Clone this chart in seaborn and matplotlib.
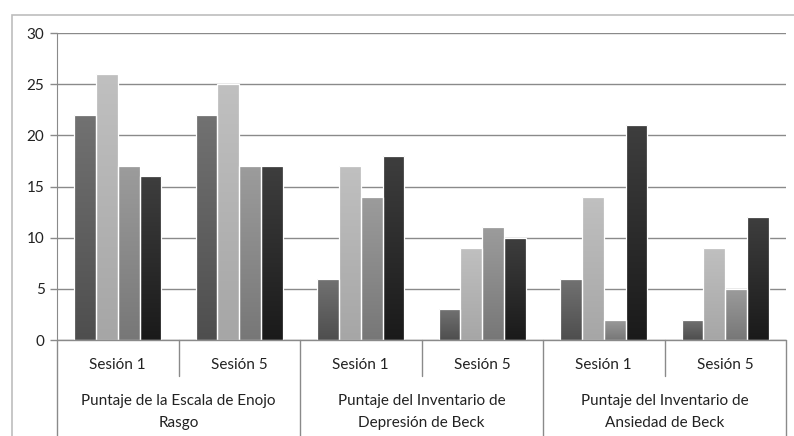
import numpy as np
import pandas as pd
import matplotlib
matplotlib.use("Agg")
import matplotlib.pyplot as plt
import seaborn as sns
from matplotlib.colors import LinearSegmentedColormap
from matplotlib.lines import Line2D
from matplotlib.patches import Rectangle

# --- DATOS ---
grupos = [
    ["Puntaje de la Escala de Enojo", "Rasgo"],
    ["Puntaje del Inventario de", "Depresión de Beck"],
    ["Puntaje del Inventario de", "Ansiedad de Beck"],
]
sesiones = ["Sesión 1", "Sesión 5"]
series = ["Serie 1", "Serie 2", "Serie 3", "Serie 4"]
serie1 = [22, 22, 6, 3, 6, 2]
serie2 = [26, 25, 17, 9, 14, 9]
serie3 = [17, 17, 14, 11, 2, 5]
serie4 = [16, 17, 18, 10, 21, 12]
# degradado (arriba, abajo) de cada serie
colores = [("#727272", "#4e4e4e"), ("#c0c0c0", "#a6a6a6"),
           ("#9c9c9c", "#777777"), ("#3e3e3e", "#1a1a1a")]
# --- FIN DE LOS DATOS ---

categorias = [f"{g}|{s}" for g in range(len(grupos)) for s in sesiones]
valores = [serie1, serie2, serie3, serie4]
filas = []
for nombre, vals in zip(series, valores):
    for cat, v in zip(categorias, vals):
        filas.append({"categoria": cat, "serie": nombre, "valor": v})
df = pd.DataFrame(filas)

sns.set_style("white")
plt.rcParams["font.family"] = ["Lato", "DejaVu Sans"]
FS = 11

fig = plt.figure(figsize=(7.94, 4.36), dpi=100)
ax = fig.add_axes([57 / 794, 1 - 340 / 436, (786 - 57) / 794, (340 - 33) / 436])

paleta = {s: c[1] for s, c in zip(series, colores)}
sns.barplot(data=df, x="categoria", y="valor", hue="serie", order=categorias,
            hue_order=series, palette=paleta, width=0.72, ax=ax,
            legend=False, linewidth=0, saturation=1)

# degradado vertical dentro de cada barra
grad = np.linspace(0, 1, 256).reshape(-1, 1)
for cont, (arriba, abajo) in zip(ax.containers, colores):
    cmap = LinearSegmentedColormap.from_list("g", [arriba, abajo])
    for barra in cont:
        x0, y0 = barra.get_x(), barra.get_y()
        w, h = barra.get_width(), barra.get_height()
        im = ax.imshow(grad, cmap=cmap, aspect="auto", origin="upper",
                       extent=(x0, x0 + w, y0, y0 + h), zorder=3)
        im.set_clip_path(barra)
        # contorno blanco fino entre barras
        barra.set_facecolor("none")
        barra.set_edgecolor("white")
        barra.set_linewidth(0.9)
        barra.set_zorder(4)
ax.set_xlim(-0.5, len(categorias) - 0.5)
ax.set_ylim(0, 30)

gris = "#8a8a8a"
ax.set_yticks(range(0, 31, 5))
ax.yaxis.grid(True, color=gris, linewidth=1)
ax.set_axisbelow(True)
for lado in ["top", "right", "bottom"]:
    ax.spines[lado].set_visible(False)
ax.spines["left"].set_color(gris)
ax.tick_params(axis="y", length=5, width=1, color=gris, labelsize=FS,
               labelcolor="#222222", pad=4, left=True)
ax.set_xticks([])
ax.set_xlabel("")
ax.set_ylabel("")

# eje de categorías en dos niveles
tr = ax.get_xaxis_transform()
ax.add_line(Line2D([-0.5, len(categorias) - 0.5], [0, 0], transform=tr,
                   color=gris, lw=1, clip_on=False, zorder=5))
for i in range(len(categorias) + 1):
    x = i - 0.5
    fondo = -0.32 if i % 2 == 0 else -0.117
    ax.add_line(Line2D([x, x], [0, fondo], transform=tr, color=gris, lw=1,
                       clip_on=False))
for i, cat in enumerate(categorias):
    ax.text(i, -0.082, cat.split("|")[1], transform=tr, ha="center",
            va="center", fontsize=FS, color="#222222")
for g, lineas in enumerate(grupos):
    xc = 2 * g + 0.5
    ax.text(xc, -0.199, lineas[0], transform=tr, ha="center", va="center",
            fontsize=FS, color="#222222")
    ax.text(xc, -0.27, lineas[1], transform=tr, ha="center", va="center",
            fontsize=FS, color="#222222")

# borde exterior del gráfico
fig.patches.append(Rectangle((12 / 794, -0.1), 1.2, 1 - 15 / 436 + 0.1,
                             transform=fig.transFigure, fill=False,
                             edgecolor="#bdbdbd", lw=1.2))

fig.savefig("out.png", dpi=100)
